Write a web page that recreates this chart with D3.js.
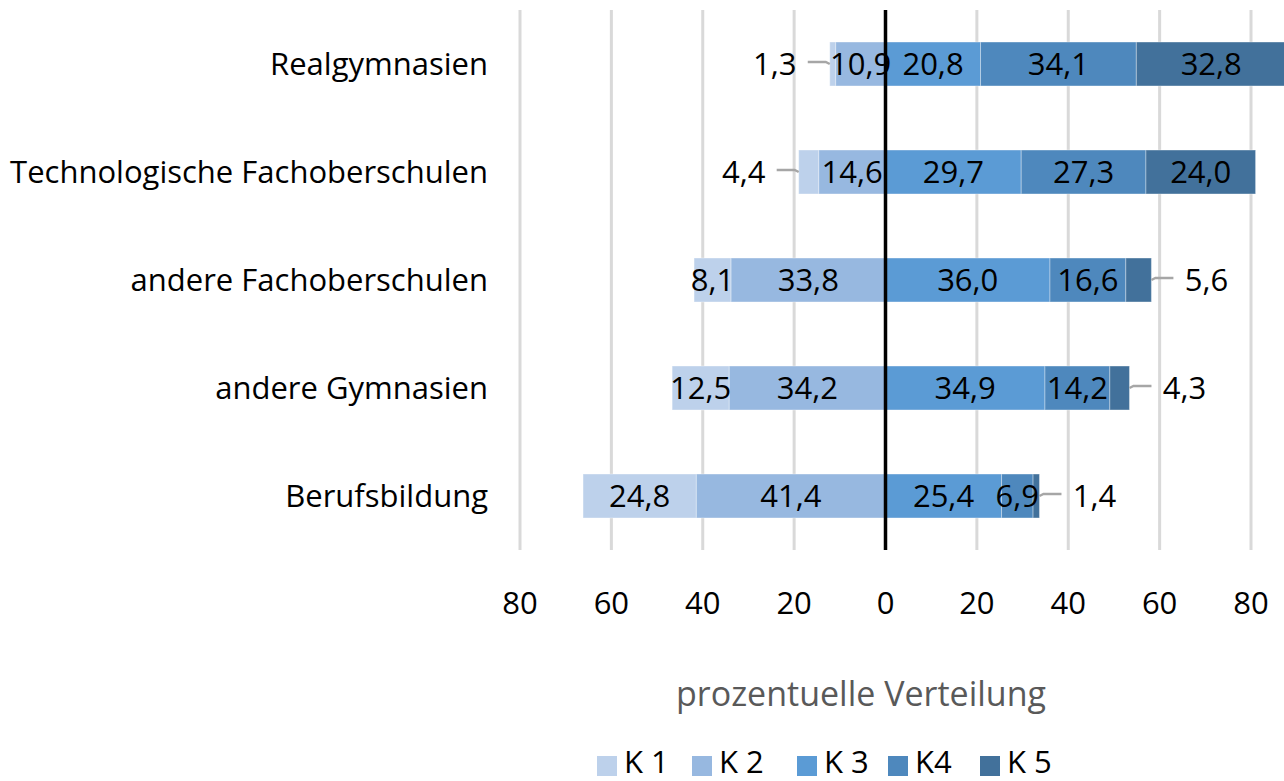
<!DOCTYPE html>
<html><head><meta charset="utf-8">
<script src="https://cdn.jsdelivr.net/npm/d3@7"></script>
<style>body{margin:0;background:#fff}svg{display:block}text{font-family:"Open Sans",sans-serif}</style>
</head><body>
<svg id="c" width="1284" height="781"></svg>
<script>
const categories = ["Realgymnasien","Technologische Fachoberschulen","andere Fachoberschulen","andere Gymnasien","Berufsbildung"];
const seriesNames = ["K 1","K 2","K 3","K4","K 5"];
const K1 = [1.3, 4.4, 8.1, 12.5, 24.8];
const K2 = [10.9, 14.6, 33.8, 34.2, 41.4];
const K3 = [20.8, 29.7, 36.0, 34.9, 25.4];
const K4 = [34.1, 27.3, 16.6, 14.2, 6.9];
const K5 = [32.8, 24.0, 5.6, 4.3, 1.4];
const tickValues = [-80,-60,-40,-20,0,20,40,60,80];
const colors = ["#bdd1eb","#97b8e0","#5b9bd5","#4e88bd","#42719b"];

const FS = 31;
const svg = d3.select("#c");
const x = d3.scaleLinear().domain([-80,80]).range([520,1251]);
const y = d3.scaleBand().domain(categories).range([10,550]).paddingInner(0.593).paddingOuter(0.2965);
const fmt = v => d3.format(".1f")(v).replace(".", ",");

svg.append("g").selectAll("line").data(tickValues.filter(d=>d!==0)).join("line")
  .attr("x1",d=>x(d)).attr("x2",d=>x(d)).attr("y1",10).attr("y2",550)
  .attr("stroke","#d9d9d9").attr("stroke-width",3);

const series = [K1,K2,K3,K4,K5];
const segs = [];
categories.forEach((c,i)=>{
  let k2s = -series[1][i], k1s = k2s - series[0][i];
  segs.push({c, s:0, v:series[0][i], x0:k1s, x1:k2s});
  segs.push({c, s:1, v:series[1][i], x0:k2s, x1:0});
  let acc = 0;
  for (let s=2;s<5;s++){ segs.push({c, s, v:series[s][i], x0:acc, x1:acc+series[s][i]}); acc += series[s][i]; }
});

svg.append("g").selectAll("rect").data(segs).join("rect")
  .attr("x",d=>x(d.x0)).attr("width",d=>x(d.x1)-x(d.x0))
  .attr("y",d=>y(d.c)).attr("height",y.bandwidth())
  .attr("fill",d=>colors[d.s]).attr("stroke","#ffffff").attr("stroke-opacity",0.35).attr("stroke-width",1);

svg.append("line").attr("x1",x(0)).attr("x2",x(0)).attr("y1",10).attr("y2",550)
  .attr("stroke","#000").attr("stroke-width",3.5);

const lab = svg.append("g").attr("font-size",FS).attr("fill","#000");
segs.forEach(d=>{
  const w = x(d.x1)-x(d.x0);
  const cy = y(d.c)+y.bandwidth()/2;
  if (w > 30) {
    lab.append("text").attr("x",(x(d.x0)+x(d.x1))/2).attr("y",cy).attr("dy","0.35em")
      .attr("text-anchor","middle").text(fmt(d.v));
  } else {
    const left = d.x0 < 0;
    const edge = left ? x(d.x0) : x(d.x1);
    const dir = left ? -1 : 1;
    lab.append("path").attr("d",`M${edge},${cy} L${edge+dir*4},${cy-2} L${edge+dir*22},${cy-2}`)
      .attr("fill","none").attr("stroke","#a6a6a6").attr("stroke-width",2.5);
    lab.append("text").attr("x",edge+dir*55).attr("y",cy).attr("dy","0.35em")
      .attr("text-anchor","middle").text(fmt(d.v));
  }
});

svg.append("g").selectAll("text").data(categories).join("text")
  .attr("x",488).attr("y",d=>y(d)+y.bandwidth()/2).attr("dy","0.35em")
  .attr("text-anchor","end").attr("font-size",FS).text(d=>d);

svg.append("g").selectAll("text").data(tickValues).join("text")
  .attr("x",d=>x(d)).attr("y",603).attr("dy","0.35em").attr("text-anchor","middle")
  .attr("font-size",FS).text(d=>Math.abs(d));

svg.append("text").attr("x",861).attr("y",694).attr("dy","0.35em").attr("text-anchor","middle")
  .attr("font-size",34).attr("fill","#595959").text("prozentuelle Verteilung");

const legX = [597,692,797,888,980];
const leg = svg.append("g");
seriesNames.forEach((n,i)=>{
  leg.append("rect").attr("x",legX[i]).attr("y",756).attr("width",20).attr("height",20).attr("fill",colors[i]);
  leg.append("text").attr("x",legX[i]+27).attr("y",762).attr("dy","0.35em").attr("font-size",FS).text(n);
});
</script>
</body></html>
